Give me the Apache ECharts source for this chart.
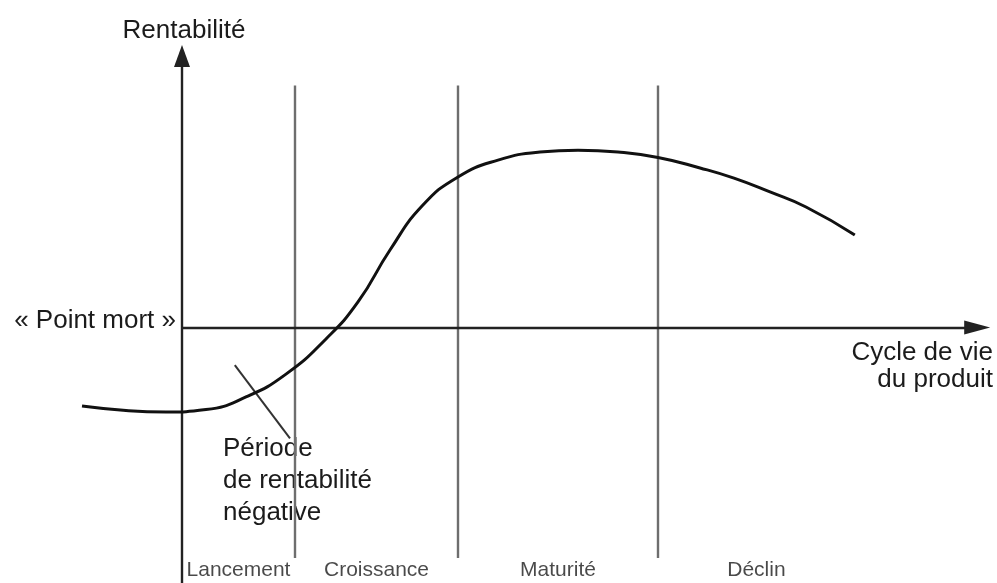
<!DOCTYPE html>
<html>
<head>
<meta charset="utf-8">
<script src="https://cdn.jsdelivr.net/npm/echarts@6/dist/echarts.min.js"></script>
<style>
html,body{margin:0;padding:0;background:#fff;}
#chart{width:997px;height:583px;}
</style>
</head>
<body>
<div id="chart"></div>
<script>
// ---- data (time along the life cycle, profitability) ----
const curveT = [-12.5, -7, -2, 3, 8, 13, 18, 22, 26, 30, 34.5, 39.5, 44.75, 49.5, 54.5, 59.5, 64.75, 69, 73.5, 78, 84.1];
const curveP = [-26.1, -27.6, -28.1, -27.3, -23.1, -15.5, -3.8, 8.5, 25.8, 40.4, 50.1, 55.7, 58.4, 59.0, 58.4, 56.6, 53.1, 49.7, 45.1, 40.1, 30.8];
const phaseNames = ['Lancement', 'Croissance', 'Maturité', 'Déclin'];
const phaseBounds = [0, 14.125, 34.5, 59.5, 84.1];
const phaseLineTop = 80.5;
const phaseLineBottom = -76.7;
const phaseLabelLevel = -80.7;
const axisTop = 90.3;
const axisBottom = -85;
const axisRight = 99.4;
const leaderFrom = [6.6, -12.5];
const leaderTo = [13.5, -36.9];

const font = '"Liberation Sans", Arial, Helvetica, sans-serif';
const ink = '#1b1b1b';

const curveData = curveT.map((t, i) => [t, curveP[i]]);
const phaseLabelData = phaseNames.map((n, i) => ({
  name: n,
  value: [(phaseBounds[i] + phaseBounds[i + 1]) / 2, phaseLabelLevel]
}));
const phaseLines = phaseBounds.slice(1, 4).map(b => [
  { coord: [b, phaseLineTop] },
  { coord: [b, phaseLineBottom] }
]);

const chart = echarts.init(document.getElementById('chart'), null, { renderer: 'canvas' });
chart.setOption({
  backgroundColor: '#ffffff',
  animation: false,
  grid: { left: 82, right: 7, top: 45, bottom: 0, containLabel: false },
  xAxis: {
    type: 'value', min: -12.5, max: 101,
    axisLine: { show: false }, axisTick: { show: false },
    axisLabel: { show: false }, splitLine: { show: false }
  },
  yAxis: {
    type: 'value', min: -85, max: 94,
    axisLine: { show: false }, axisTick: { show: false },
    axisLabel: { show: false }, splitLine: { show: false }
  },
  series: [
    {
      // phase separators
      type: 'line', data: [], silent: true,
      markLine: {
        silent: true, animation: false,
        symbol: ['none', 'none'],
        label: { show: false },
        lineStyle: { color: '#6e6e6e', width: 2.4, type: 'solid' },
        data: phaseLines
      }
    },
    {
      // axes with arrows
      type: 'line', data: [], silent: true,
      markLine: {
        silent: true, animation: false,
        symbol: ['none', 'none'],
        label: { show: false },
        lineStyle: { color: '#222', width: 2.4, type: 'solid' },
        data: [
          [ { coord: [0, axisBottom], symbol: 'none' },
            { coord: [0, axisTop], symbol: 'triangle', symbolSize: [16, 22] } ],
          [ { coord: [0, 0], symbol: 'none' },
            { coord: [axisRight, 0], symbol: 'triangle', symbolSize: [14, 26] } ],
          [ { coord: leaderFrom, symbol: 'none' },
            { coord: leaderTo, symbol: 'none', lineStyle: { width: 2, color: '#333' } } ]
        ]
      }
    },
    {
      type: 'line',
      data: curveData,
      smooth: 0.5,
      showSymbol: false,
      symbol: 'none',
      lineStyle: { color: '#111', width: 3 },
      z: 5
    },
    {
      type: 'scatter',
      data: phaseLabelData,
      symbolSize: 0,
      silent: true,
      label: {
        show: true, position: 'inside',
        formatter: p => p.name,
        color: ink, fontSize: 21, fontFamily: font
      }
    }
  ],
  graphic: [
    { type: 'text', x: 184, y: 31, style: { text: 'Rentabilité', fill: ink, font: '26px ' + font, textAlign: 'center', textVerticalAlign: 'middle' } },
    { type: 'text', x: 176, y: 321, style: { text: '« Point mort »', fill: ink, font: '26px ' + font, textAlign: 'right', textVerticalAlign: 'middle' } },
    { type: 'text', x: 993, y: 353, style: { text: 'Cycle de vie', fill: ink, font: '26px ' + font, textAlign: 'right', textVerticalAlign: 'middle' } },
    { type: 'text', x: 993, y: 380, style: { text: 'du produit', fill: ink, font: '26px ' + font, textAlign: 'right', textVerticalAlign: 'middle' } },
    { type: 'text', x: 223, y: 449, style: { text: 'Période', fill: ink, font: '26px ' + font, textAlign: 'left', textVerticalAlign: 'middle' } },
    { type: 'text', x: 223, y: 481, style: { text: 'de rentabilité', fill: ink, font: '26px ' + font, textAlign: 'left', textVerticalAlign: 'middle' } },
    { type: 'text', x: 223, y: 513, style: { text: 'négative', fill: ink, font: '26px ' + font, textAlign: 'left', textVerticalAlign: 'middle' } }
  ]
});
</script>
</body>
</html>
